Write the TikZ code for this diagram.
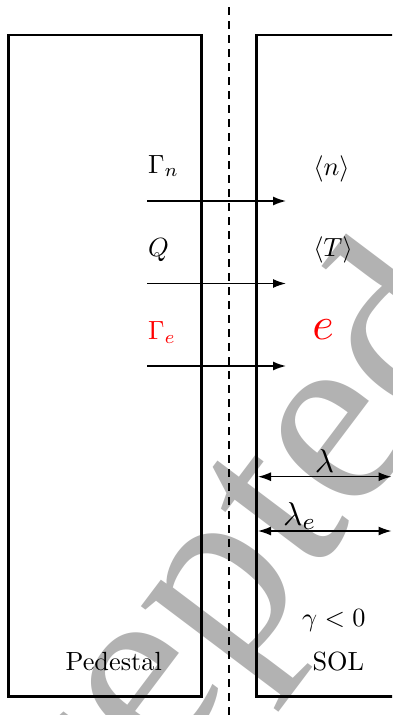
\RequirePackage{fix-cm}
\documentclass[tikz,border=0pt]{standalone}
\usepackage{fontspec}
\newfontfamily\wmfont{Liberation Serif}
\usetikzlibrary{arrows.meta}
\newcommand\lbltext[1]{\scalebox{2.63}{#1}}
\newcommand\lamtext[1]{\scalebox{3.3}{#1}}
\begin{document}
\begin{tikzpicture}[x=1pt,y=-1pt,
  box/.style={line width=2.8pt},
  sep/.style={line width=1.5pt,dash pattern=on 8pt off 6pt},
  flux/.style={line width=1.5pt,-{Latex[length=13pt,width=9pt]}},
  widtharrow/.style={line width=1.3pt,{Latex[length=13pt,width=9pt]}-{Latex[length=13pt,width=9pt]}},
  lbl/.style={inner sep=0pt},
  wm/.style={inner sep=0pt,text=black!30,rotate=53,font=\fontsize{258}{262}\wmfont}
  ]
\useasboundingbox (0,0) rectangle (392,715);
\clip (0,0) rectangle (392,715);
% watermark
\node[wm,anchor=base east] (wmark) at (233,682) {Acce\rlap{pted}};
% boxes
\draw[box] (8.7,35) rectangle (201.7,696.7);
\draw[box] (400,35) -- (256.7,35) -- (256.7,696.7) -- (400,696.7);
% separatrix
\coordinate (septop) at (229,7);
\coordinate (sepbot) at (229,716);
\draw[sep] (septop) -- (sepbot);
% flux arrows
\coordinate (f1s) at (147,201);   \coordinate (f1e) at (286,201);
\coordinate (f2s) at (147,283.5); \coordinate (f2e) at (286,283.5);
\coordinate (f3s) at (147,366);   \coordinate (f3e) at (286,366);
\draw[flux] (f1s) -- (f1e);
\draw[flux] (f2s) -- (f2e);
\draw[flux] (f3s) -- (f3e);
% labels left
\node[lbl,anchor=base west] (Gn) at (148,173) {\lbltext{$\Gamma_n$}};
\node[lbl,anchor=base west] (Q) at (148,256) {\lbltext{$Q$}};
\node[lbl,anchor=base west,text=red] (Ge) at (148,339.5) {\lbltext{$\Gamma_e$}};
% labels right
\node[lbl] (n) at (331.5,169) {\lbltext{$\langle n\rangle$}};
\node[lbl] (T) at (333,250) {\lbltext{$\langle T\rangle$}};
\node[lbl,text=red] (e) at (323,330) {\scalebox{4.6}{$e$}};
% widths
\coordinate (l1s) at (258,476.7); \coordinate (l1e) at (391.5,476.7);
\coordinate (l2s) at (258,531);   \coordinate (l2e) at (391.5,531);
\draw[widtharrow] (l1s) -- (l1e);
\draw[widtharrow] (l2s) -- (l2e);
\node[lbl] (lam) at (324.5,461) {\lamtext{$\lambda$}};
\node[lbl,anchor=base west] (lame) at (283,525) {\lamtext{$\lambda_e$}};
\node[lbl,anchor=base west] (gam) at (302,626) {\lbltext{$\gamma<0$}};
% region names
\node[lbl,anchor=base] (ped) at (113.7,670) {\lbltext{Pedestal}};
\node[lbl,anchor=base] (sol) at (338.3,670) {\lbltext{SOL}};
\end{tikzpicture}
\end{document}
